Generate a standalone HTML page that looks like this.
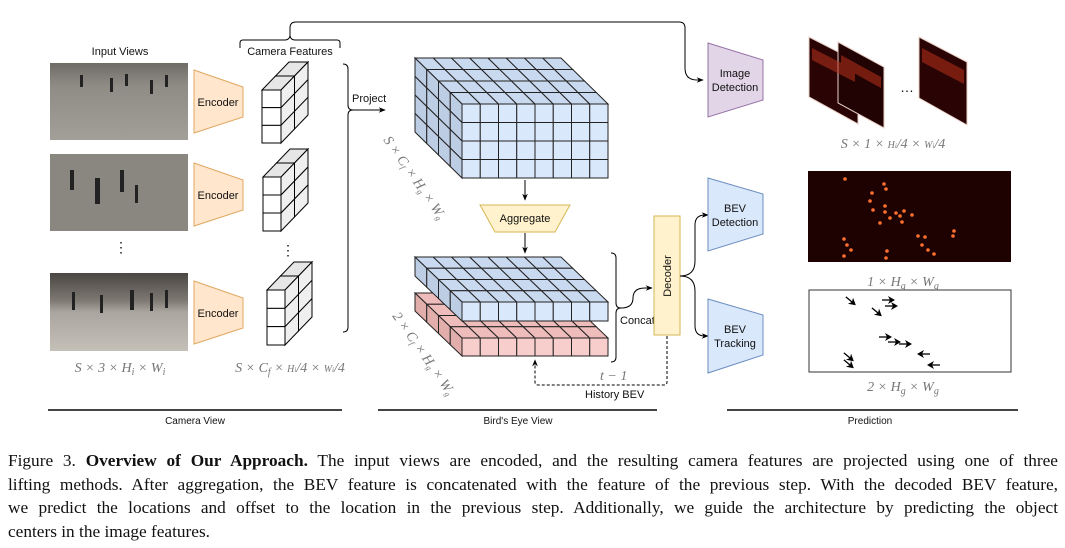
<!DOCTYPE html>
<html><head><meta charset="utf-8"><style>
html,body{margin:0;padding:0;background:#fff;width:1065px;height:548px;overflow:hidden}
svg{display:block}
.s{font-family:"Liberation Sans",sans-serif;font-size:11px;fill:#111}
.m{font-family:"Liberation Serif",serif;font-style:italic;font-size:14px;fill:#777}
.cap{position:absolute;left:8px;top:449px;width:1050px;font-family:"Liberation Serif",serif;font-size:17.3px;line-height:23.5px;color:#111}
.cap div{text-align:justify;text-align-last:justify;white-space:nowrap}
.cap div.l{text-align-last:left}
</style></head><body>
<svg id="sv" width="1065" height="548" xmlns="http://www.w3.org/2000/svg">
<defs>
<marker id="ar" viewBox="0 0 10 10" refX="9" refY="5" markerWidth="7" markerHeight="7" orient="auto"><path d="M0,1 L10,5 L0,9 L3,5z" fill="#000"/></marker>
<linearGradient id="ph1" x1="0" y1="0" x2="0" y2="1"><stop offset="0" stop-color="#6f6c66"/><stop offset="0.3" stop-color="#8f8c86"/><stop offset="1" stop-color="#a29f98"/></linearGradient>
<linearGradient id="ph3" x1="0" y1="0" x2="0" y2="1"><stop offset="0" stop-color="#4a4642"/><stop offset="0.35" stop-color="#7d7872"/><stop offset="0.5" stop-color="#aaa69f"/><stop offset="1" stop-color="#c4c0b8"/></linearGradient>
</defs>
<rect x="50" y="63" width="138" height="77" fill="url(#ph1)"/>
<rect x="50" y="154" width="138" height="77" fill="#8a8780"/>
<rect x="50" y="273" width="138" height="78" fill="url(#ph3)"/>
<g fill="#222">
<rect x="80" y="75" width="3" height="12"/><rect x="110" y="78" width="3" height="14"/><rect x="125" y="74" width="3" height="12"/><rect x="150" y="80" width="3" height="14"/><rect x="165" y="75" width="3" height="12"/>
<rect x="70" y="170" width="4" height="20"/><rect x="95" y="178" width="5" height="26"/><rect x="120" y="170" width="4" height="22"/><rect x="135" y="185" width="3" height="18"/>
<rect x="72" y="292" width="3" height="18"/><rect x="100" y="295" width="3" height="18"/><rect x="130" y="290" width="4" height="20"/><rect x="150" y="293" width="3" height="18"/><rect x="165" y="290" width="3" height="18"/>
</g>
<text x="120" y="55" class="s" text-anchor="middle">Input Views</text>
<text x="290" y="55" class="s" text-anchor="middle">Camera Features</text>
<path d="M240,48 v-5 q0,-3 3,-3 h42 q4,0 5,-4 q1,4 5,4 h42 q3,0 3,3 v5" fill="none" stroke="#000" stroke-width="1"/>
<path d="M290,36 v-8 q0,-6 6,-6 h383 q6,0 6,6 v40 q0,12 12,12 h6" fill="none" stroke="#000" stroke-width="1" marker-end="url(#ar)"/>
<g fill="#ffe6cc" stroke="#e0a860" stroke-width="1">
<polygon points="194,70 243,87 243,117 194,133"/>
<polygon points="194,163 243,180 243,210 194,226"/>
<polygon points="194,281 243,298 243,328 194,344"/>
</g>
<g class="s" text-anchor="middle"><text x="218" y="106">Encoder</text><text x="218" y="199">Encoder</text><text x="218" y="317">Encoder</text></g>
<text x="121" y="252" class="s" text-anchor="middle" style="font-size:14px">⋮</text>
<text x="288" y="255" class="s" text-anchor="middle" style="font-size:14px">⋮</text>
<g id="cubes"></g>
<path d="M343,64 q5,0 5,5 v36 q0,5 5,5 q-5,0 -5,5 v212 q0,5 -5,5" fill="none" stroke="#000"/>
<path d="M353,110 h32" stroke="#000" marker-end="url(#ar)"/>
<text x="352" y="102" class="s">Project</text>
<text class="m" font-size="11" transform="translate(383,140) rotate(55)">S × C<tspan font-size="8" dy="2">f</tspan><tspan dy="-2"> × H</tspan><tspan font-size="8" dy="2">g</tspan><tspan dy="-2"> × W</tspan><tspan font-size="8" dy="2">g</tspan></text>
<text class="m" font-size="11" transform="translate(392,316) rotate(55)">2 × C<tspan font-size="8" dy="2">f</tspan><tspan dy="-2"> × H</tspan><tspan font-size="8" dy="2">g</tspan><tspan dy="-2"> × W</tspan><tspan font-size="8" dy="2">g</tspan></text>
<path d="M525,180 v20" stroke="#000" marker-end="url(#ar)"/>
<polygon points="480,205 570,205 555,232 495,232" fill="#fff2cc" stroke="#d6b656"/>
<text x="525" y="222" class="s" text-anchor="middle">Aggregate</text>
<path d="M525,233 v20" stroke="#000" marker-end="url(#ar)"/>
<path d="M611,253 q5,0 5,5 v45 q0,5 5,5 q-5,0 -5,5 v44 q0,5 -5,5" fill="none" stroke="#000"/>
<path d="M621,308 q12,0 12,-10 q0,-10 12,-10 h7" fill="none" stroke="#000" marker-end="url(#ar)"/>
<text x="620" y="324" class="s">Concat</text>
<rect x="654" y="216" width="26" height="119" fill="#fff2cc" stroke="#d6b656"/>
<text class="s" transform="translate(671,276) rotate(-90)" text-anchor="middle">Decoder</text>
<path d="M667,336 v46 q0,3 -3,3 h-126 q-3,0 -3,-3 v-22" fill="none" stroke="#000" stroke-dasharray="3,2" marker-end="url(#ar)"/>
<text x="600" y="380" class="m" font-size="11">t − 1</text>
<text x="585" y="398" class="s">History BEV</text>
<path d="M680,276 q15,0 15,-15 v-36 q0,-10 10,-10 h3" fill="none" stroke="#000" marker-end="url(#ar)"/>
<path d="M680,276 q15,0 15,15 v35 q0,10 10,10 h3" fill="none" stroke="#000" marker-end="url(#ar)"/>
<polygon points="708,43 763,60 763,100 708,117" fill="#e1d5e7" stroke="#9673a6"/>
<text x="735" y="77" class="s" text-anchor="middle">Image</text><text x="735" y="91" class="s" text-anchor="middle">Detection</text>
<polygon points="708,178 763,194 763,234 708,251" fill="#dae8fc" stroke="#6c8ebf"/>
<text x="735" y="212" class="s" text-anchor="middle">BEV</text><text x="735" y="226" class="s" text-anchor="middle">Detection</text>
<polygon points="708,299 763,315 763,355 708,373" fill="#dae8fc" stroke="#6c8ebf"/>
<text x="735" y="333" class="s" text-anchor="middle">BEV</text><text x="735" y="347" class="s" text-anchor="middle">Tracking</text>
<g stroke="#e8d0c8" stroke-width="1">
<polygon points="809,37 858,62 858,124 809,97" fill="#2a0404"/>
<polygon points="838,42 884,67 884,128 838,103" fill="#220303"/>
<polygon points="919,37 967,62 967,125 919,98" fill="#2a0404"/>
</g>
<g fill="#b8321c" opacity="0.55">
<polygon points="812,48 855,70 855,82 812,60"/><polygon points="841,55 881,77 881,88 841,66"/><polygon points="922,48 964,70 964,84 922,62"/>
</g>
<text x="907" y="92" class="s" text-anchor="middle" style="font-size:14px">…</text>
<text x="893" y="148" class="m" text-anchor="middle">S × 1 × <tspan font-size="10">H</tspan><tspan font-size="7">i</tspan>/4 × <tspan font-size="10">W</tspan><tspan font-size="7">i</tspan>/4</text>
<rect x="808" y="171" width="203" height="91" fill="#1e0202"/>
<g fill="#ff7030" id="dots"></g>
<text x="903" y="286" class="m" text-anchor="middle">1 × H<tspan font-size="10" dy="3">g</tspan><tspan dy="-3"> × W</tspan><tspan font-size="10" dy="3">g</tspan></text>
<rect x="809" y="290" width="202" height="82" fill="#fff" stroke="#333"/>
<g id="arrs" fill="#000"></g>
<text x="903" y="391" class="m" text-anchor="middle">2 × H<tspan font-size="10" dy="3">g</tspan><tspan dy="-3"> × W</tspan><tspan font-size="10" dy="3">g</tspan></text>
<text x="120" y="372" class="m" text-anchor="middle">S × 3 × H<tspan font-size="10" dy="3">i</tspan><tspan dy="-3"> × W</tspan><tspan font-size="10" dy="3">i</tspan></text>
<text x="290" y="372" class="m" text-anchor="middle">S × C<tspan font-size="10" dy="3">f</tspan><tspan dy="-3"> × </tspan><tspan font-size="10">H</tspan><tspan font-size="7">i</tspan>/4 × <tspan font-size="10">W</tspan><tspan font-size="7">i</tspan>/4</text>
<g stroke="#444" stroke-width="2"><path d="M48,410 H342"/><path d="M378,410 H657"/><path d="M727,410 H1018"/></g>
<g class="s" text-anchor="middle"><text x="195" y="424" style="font-size:10px">Camera View</text><text x="518" y="424" style="font-size:10px">Bird's Eye View</text><text x="870" y="424" style="font-size:10px">Prediction</text></g>
</svg>
<div class="cap">
<div>Figure 3. <b>Overview of Our Approach.</b> The input views are encoded, and the resulting camera features are projected using one of three</div>
<div>lifting methods. After aggregation, the BEV feature is concatenated with the feature of the previous step. With the decoded BEV feature,</div>
<div>we predict the locations and offset to the location in the previous step. Additionally, we guide the architecture by predicting the object</div>
<div class="l">centers in the image features.</div>
</div>
<script>
var NS="http://www.w3.org/2000/svg";
function poly(g,pts,f,st){var p=document.createElementNS(NS,"polygon");p.setAttribute("points",pts.map(a=>a.join(",")).join(" "));p.setAttribute("fill",f);p.setAttribute("stroke",st);p.setAttribute("stroke-width","1");g.appendChild(p);}
function cube(fx,fy,w,h,cols,rows,dep,DX,DY,front,top,side,st){
 var g=document.getElementById("cubes"),cw=w/cols,rh=h/rows,dx=DX/dep,dy=DY/dep;
 for(var k=dep-1;k>=0;k--){
  for(var i=0;i<cols;i++){var x=fx+i*cw+k*dx,y=fy+k*dy;poly(g,[[x,y],[x+cw,y],[x+cw+dx,y+dy],[x+dx,y+dy]],top,st);}
  var sx=DX<0?fx:fx+w;
  for(var j=0;j<rows;j++){var x=sx+k*dx,y=fy+j*rh+k*dy;poly(g,[[x,y],[x+dx,y+dy],[x+dx,y+dy+rh],[x,y+rh]],side,st);}
 }
 for(var i=0;i<cols;i++)for(var j=0;j<rows;j++){var x=fx+i*cw,y=fy+j*rh;poly(g,[[x,y],[x+cw,y],[x+cw,y+rh],[x,y+rh]],front,st);}
}
cube(262,90,19,53,1,3,2,27,-28,"#fff","#e6e6e6","#efefef","#000");
cube(263,177,18,54,1,3,2,27,-28,"#fff","#e6e6e6","#efefef","#000");
cube(267,290,18,55,1,3,2,27,-28,"#fff","#e6e6e6","#efefef","#000");
cube(462,104,146,74,8,4,4,-47,-46,"#dae8fc","#c9d9ef","#bccde4","#222");
cube(462,338,146,18,8,1,4,-47,-45,"#f8cecc","#eebcba","#e2aeac","#222");
cube(462,302,146,19,8,1,4,-47,-45,"#dae8fc","#c9d9ef","#bccde4","#222");
var d=[[845,179],[884,184],[886,189],[872,193],[870,201],[873,210],[885,212],[896,213],[904,211],[900,216],[890,218],[885,206],[912,215],[880,223],[902,222],[844,239],[847,245],[851,250],[844,256],[918,236],[925,237],[922,245],[928,250],[934,254],[954,231],[953,236],[887,251],[886,258]];
var dg=document.getElementById("dots");d.forEach(p=>{var c=document.createElementNS(NS,"circle");c.setAttribute("cx",p[0]);c.setAttribute("cy",p[1]);c.setAttribute("r","1.8");dg.appendChild(c);});
var a=[[852,302,40],[890,300,0],[893,306,0],[878,313,40],[887,337,0],[896,342,0],[907,344,0],[922,354,180],[850,358,40],[850,365,40],[932,365,180]];
var ag=document.getElementById("arrs");a.forEach(p=>{var g=document.createElementNS(NS,"g");g.setAttribute("transform","translate("+p[0]+","+p[1]+") rotate("+p[2]+")");g.innerHTML='<path d="M-8,0 H2" stroke="#000" stroke-width="1.3"/><path d="M5,0 L-2,-4 L0,0 L-2,4z" fill="#000"/>';ag.appendChild(g);});
</script>
</body></html>
